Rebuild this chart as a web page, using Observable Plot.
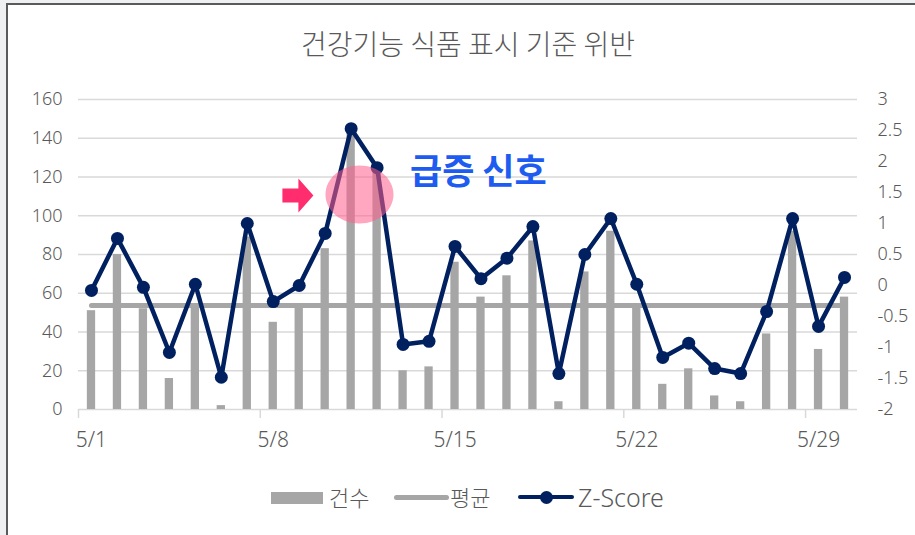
<!DOCTYPE html>
<html>
<head>
<meta charset="utf-8">
<script src="https://cdn.jsdelivr.net/npm/d3@7"></script>
<script src="https://cdn.jsdelivr.net/npm/@observablehq/plot@0.6"></script>
<style>
  body { margin:0; background:#eef0f2; font-family:"Noto Sans","Noto Sans CJK KR",sans-serif; }
  #frame { position:absolute; left:6px; top:3px; width:915px; height:540px; background:#fff; border-left:2px solid #5a5a5a; border-top:2px solid #5a5a5a; }
  #chart { position:absolute; left:0; top:0; }
  #title { position:absolute; left:0; width:936px; top:29px; text-align:center; font-size:28px; font-weight:300; color:#595959; font-family:"Noto Sans CJK KR",sans-serif; line-height:1; }
  .lg { position:absolute; font-size:22px; font-weight:300; color:#595959; line-height:1; font-family:"Noto Sans CJK KR","Noto Sans",sans-serif; }
</style>
</head>
<body>
<div id="frame"></div>
<div id="chart"></div>
<div id="title">건강기능 식품 표시 기준 위반</div>
<div id="legend"></div>
<script>
const dates = ["5/1","5/2","5/3","5/4","5/5","5/6","5/7","5/8","5/9","5/10",
  "5/11","5/12","5/13","5/14","5/15","5/16","5/17","5/18","5/19","5/20",
  "5/21","5/22","5/23","5/24","5/25","5/26","5/27","5/28","5/29","5/30"];
const counts = [51,80,52,16,54,2,89,45,53,83,145,122,20,22,76,58,69,87,4,71,92,54,13,21,7,4,39,92,31,58];
const zscores = [-0.08,0.76,-0.03,-1.08,0.02,-1.48,1.0,-0.26,0.0,0.84,2.53,1.9,-0.95,-0.9,0.63,0.11,0.44,0.95,-1.42,0.5,1.08,0.02,-1.16,-0.93,-1.34,-1.42,-0.42,1.08,-0.66,0.13];
const leftTicks = [0,20,40,60,80,100,120,140,160];
const rightTicks = [-2,-1.5,-1,-0.5,0,0.5,1,1.5,2,2.5,3];
const xLabels = ["5/1","5/8","5/15","5/22","5/29"];
const seriesNames = ["건수","평균","Z-Score"];
const annotationText = "급증 신호";

const data = dates.map((d,i)=>({day:i+1, date:d, count:counts[i], z:zscores[i]}));
const mean = d3.mean(counts);
const zToY = z => (z + 2) * 32;   // map right axis [-2,3] onto left [0,160]
const dayOf = lab => dates.indexOf(lab) + 1;
const tickBounds = xLabels.map(l => dayOf(l) - 0.5);

const ellipse = { draw(ctx) { const rx=34, ry=29, k=0.5523;
  ctx.moveTo(rx,0);
  ctx.bezierCurveTo(rx, ry*k, rx*k, ry, 0, ry);
  ctx.bezierCurveTo(-rx*k, ry, -rx, ry*k, -rx, 0);
  ctx.bezierCurveTo(-rx, -ry*k, -rx*k, -ry, 0, -ry);
  ctx.bezierCurveTo(rx*k, -ry, rx, -ry*k, rx, 0);
  ctx.closePath(); } };
const arrow = { draw(ctx) {
  ctx.moveTo(-15,-7); ctx.lineTo(1,-7); ctx.lineTo(1,-17); ctx.lineTo(16,0);
  ctx.lineTo(1,17); ctx.lineTo(1,7); ctx.lineTo(-15,7); ctx.closePath(); } };

const font = "Noto Sans, Noto Sans CJK KR, sans-serif";
const chart = Plot.plot({
  width: 915, height: 535,
  marginLeft: 78, marginRight: 58, marginTop: 99, marginBottom: 126,
  x: {type:"linear", domain:[0.5, 30.5], axis:null},
  y: {domain:[0,160], axis:null},
  style: {background:"transparent", fontFamily: font},
  marks: [
    Plot.ruleY(leftTicks, {stroke:"#d9d9d9", strokeWidth:1.5}),
    Plot.axisX(tickBounds, {anchor:"bottom", label:null, tickSize:9, stroke:"#d9d9d9", strokeWidth:1.5, tickFormat: () => ""}),
    Plot.text(leftTicks, {y: d=>d, text: d=>String(d), frameAnchor:"left", textAnchor:"end", dx:-16, fill:"#595959", fontSize:18, fontWeight:300}),
    Plot.text(rightTicks, {y: d=>zToY(d), text: d=>String(d), frameAnchor:"right", textAnchor:"start", dx:20, fill:"#595959", fontSize:18, fontWeight:300}),
    Plot.text(xLabels, {x: d=>dayOf(d), text: d=>d, frameAnchor:"bottom", dy:37, fill:"#595959", fontSize:21, fontWeight:300}),
    Plot.rectY(data, {x1: d=>d.day-0.16, x2: d=>d.day+0.16, y: "count", fill:"#a6a6a6"}),
    Plot.lineY([{day:1},{day:30}], {x:"day", y: () => mean, stroke:"#a6a6a6", strokeWidth:5, strokeLinecap:"round"}),
    Plot.line(data, {x:"day", y: d=>zToY(d.z), stroke:"#002060", strokeWidth:4.5, strokeLinejoin:"round"}),
    Plot.dot(data, {x:"day", y: d=>zToY(d.z), r:6.5, fill:"#002060", stroke:"none"}),
    Plot.dot([{day:11.32, v:111}], {x:"day", y:"v", symbol: ellipse, r:30, fill:"#ff5c8d", fillOpacity:0.55, stroke:"none"}),
    Plot.dot([{day:8.93, v:110.5}], {x:"day", y:"v", symbol: arrow, r:15, fill:"#ff2d6e", stroke:"none"}),
    Plot.text([annotationText], {x: 15.9, y: 122, text: d=>d, fill:"#1e5bf0", fontSize:35, fontWeight:"bold", fontFamily:"Noto Sans CJK KR, sans-serif"})
  ]
});
document.getElementById("chart").appendChild(chart);

// legend
const lg = document.getElementById("legend");
lg.innerHTML = `
  <div style="position:absolute;left:271px;top:492px;width:52px;height:12px;background:#a6a6a6"></div>
  <div class="lg" style="left:329px;top:485px">${seriesNames[0]}</div>
  <div style="position:absolute;left:394px;top:495px;width:55px;height:5px;border-radius:3px;background:#a6a6a6"></div>
  <div class="lg" style="left:450px;top:485px">${seriesNames[1]}</div>
  <div style="position:absolute;left:518px;top:495px;width:56px;height:4px;border-radius:2px;background:#002060"></div>
  <div style="position:absolute;left:540px;top:491px;width:13px;height:13px;border-radius:50%;background:#002060"></div>
  <div class="lg" style="left:578px;top:485px;font-family:'Noto Sans',sans-serif;font-size:25px">${seriesNames[2]}</div>
`;
</script>
</body>
</html>
